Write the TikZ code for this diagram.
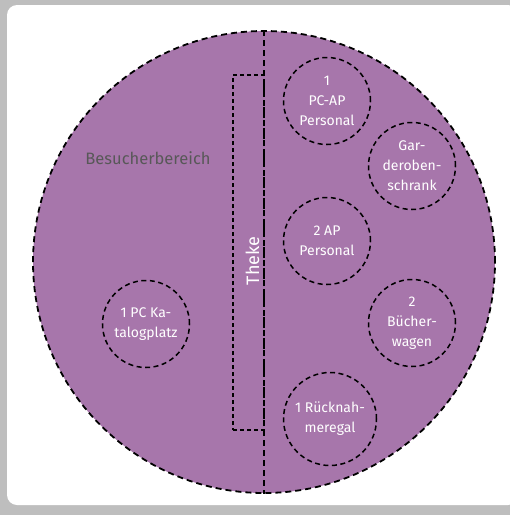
\documentclass[tikz,border=0pt]{standalone}
\usepackage{fontspec}
\setmainfont{Fira Sans}
\usepackage{tikz}
\usetikzlibrary{shapes.geometric, positioning}
\definecolor{lila}{RGB}{167,118,171}
\definecolor{grau}{RGB}{190,190,190}
\definecolor{schrift}{RGB}{88,88,88}

\begin{document}
\begin{tikzpicture}[x=1pt, y=-1pt, every node/.style={inner sep=0pt},
        platz/.style={circle, draw=black, line width=1.5pt, dash pattern=on 5pt off 3.5pt, minimum size=87pt, text=white, align=center, font=\fontsize{14}{20}\selectfont},
        rand/.style={draw=black, line width=1.8pt, dash pattern=on 6pt off 4pt}]
            \useasboundingbox (0,0) rectangle (510,515);
            \clip (0,0) rectangle (510,515);
            \fill[grau] (0,0) rectangle (510,515);
            \fill[white, rounded corners=10pt] (7,5) rectangle (518,505);

            \node[circle, fill=lila, rand, minimum size=462pt] (bereich) at (264,262) {};
            \draw[rand] (bereich.north) to (bereich.south);
            \node[rectangle, draw=black, line width=1.4pt, dash pattern=on 4pt off 3pt, minimum width=31pt, minimum height=355pt] (theke) at (248.5,252.5) {};
            \node[rotate=90, text=white, font=\fontsize{18}{20}\selectfont] (thekelabel) at (252.5,261) {Theke};
            \node[text=schrift, font=\fontsize{16.5}{20}\selectfont] (besucher) at (148,158) {Besucherbereich};

            \node[platz] (pcap) at (327,101) {1\\PC-AP\\Personal};
            \node[platz] (garderobe) at (412,166) {Gar-\\deroben-\\schrank};
            \node[platz] (ap) at (327,241) {2 AP\\Personal};
            \node[platz] (wagen) at (412,323) {2\\Bücher-\\wagen};
            \node[platz, minimum size=93pt] (regal) at (330,419) {1 Rücknah-\\meregal};
            \node[platz] (katalog) at (146,324) {1 PC Ka-\\talogplatz};
        \end{tikzpicture}
\end{document}
